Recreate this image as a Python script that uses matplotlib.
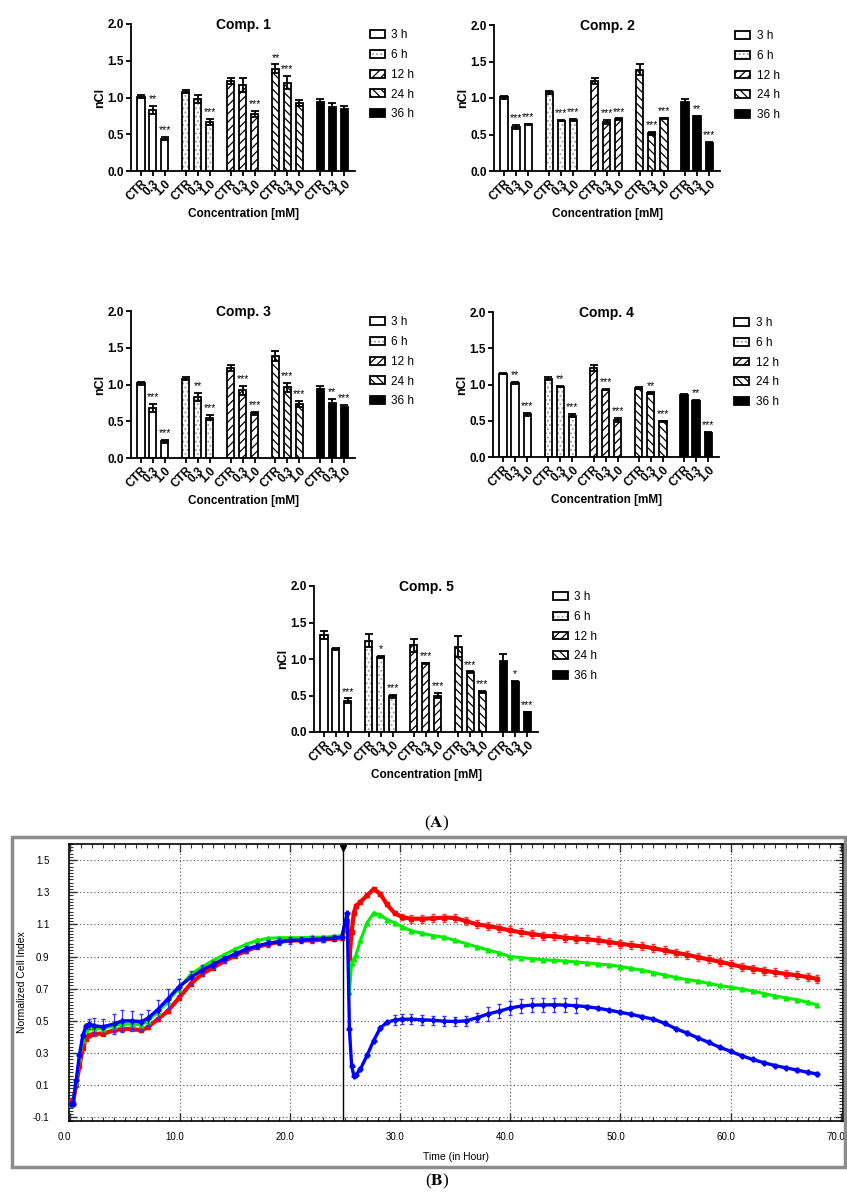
import matplotlib
matplotlib.use('Agg')
import matplotlib.pyplot as plt
from matplotlib.patches import Patch, Rectangle
from matplotlib import transforms
from matplotlib.ticker import MultipleLocator, FixedLocator

plt.rcParams['font.family'] = ['Liberation Sans', 'DejaVu Sans']
plt.rcParams['hatch.linewidth'] = 0.9

W, H = 847, 1196

# ---------------- Panel A data ----------------
time_labels = ['3 h', '6 h', '12 h', '24 h', '36 h']
conc_labels = ['CTR', '0.3', '1.0']
comp_titles = ['Comp. 1', 'Comp. 2', 'Comp. 3', 'Comp. 4', 'Comp. 5']

c1_mean = [[1.01, 0.83, 0.44], [1.08, 0.98, 0.67], [1.23, 1.17, 0.78], [1.39, 1.20, 0.93], [0.94, 0.87, 0.85]]
c1_err = [[0.02, 0.05, 0.02], [0.02, 0.05, 0.04], [0.04, 0.09, 0.04], [0.06, 0.09, 0.04], [0.04, 0.05, 0.03]]
c1_sig = [['', '**', '***'], ['', '', '***'], ['', '', '***'], ['**', '***', ''], ['', '', '']]

c2_mean = [[1.01, 0.60, 0.64], [1.08, 0.69, 0.70], [1.23, 0.67, 0.71], [1.39, 0.52, 0.72], [0.94, 0.75, 0.38]]
c2_err = [[0.02, 0.03, 0.01], [0.02, 0.01, 0.01], [0.04, 0.03, 0.01], [0.07, 0.02, 0.01], [0.05, 0.01, 0.02]]
c2_sig = [['', '***', '***'], ['', '***', '***'], ['', '***', '***'], ['', '***', '***'], ['', '**', '***']]

c3_mean = [[1.02, 0.68, 0.23], [1.08, 0.83, 0.55], [1.22, 0.92, 0.61], [1.39, 0.96, 0.74], [0.94, 0.75, 0.69]]
c3_err = [[0.02, 0.05, 0.02], [0.02, 0.05, 0.03], [0.04, 0.06, 0.02], [0.07, 0.06, 0.04], [0.04, 0.05, 0.03]]
c3_sig = [['', '***', '***'], ['', '**', '***'], ['', '***', '***'], ['', '***', '***'], ['', '**', '***']]

c4_mean = [[1.15, 1.02, 0.59], [1.08, 0.97, 0.57], [1.23, 0.93, 0.51], [0.95, 0.88, 0.49], [0.86, 0.77, 0.33]]
c4_err = [[0.01, 0.01, 0.02], [0.02, 0.01, 0.02], [0.04, 0.01, 0.03], [0.01, 0.01, 0.01], [0.01, 0.02, 0.01]]
c4_sig = [['', '**', '***'], ['', '**', '***'], ['', '***', '***'], ['', '**', '***'], ['', '**', '***']]

c5_mean = [[1.33, 1.14, 0.43], [1.25, 1.03, 0.49], [1.19, 0.94, 0.50], [1.17, 0.82, 0.55], [0.97, 0.69, 0.27]]
c5_err = [[0.06, 0.01, 0.03], [0.09, 0.01, 0.02], [0.09, 0.01, 0.04], [0.14, 0.01, 0.01], [0.10, 0.01, 0.01]]
c5_sig = [['', '', '***'], ['', '*', '***'], ['', '***', '***'], ['', '***', '***'], ['', '*', '***']]

# ---------------- Panel B data ----------------
t_hours = [0.1, 0.3, 0.6, 0.9, 1.2, 1.5, 1.8,
           2.2, 3.0, 4.0, 4.8, 5.7, 6.5, 7.1, 8.0, 8.9, 9.9,
           11, 12, 13, 14, 15, 16, 17, 18, 19, 20, 21, 22, 23, 24,
           24.7,
           25.2, 25.4, 25.6, 25.8, 26.0, 26.4, 27.0, 27.6, 28.2, 28.8, 29.5, 30.2,
           31, 32, 33, 34, 35, 36, 37, 38, 39, 40, 41, 42, 43, 44, 45, 46, 47, 48, 49,
           50, 51, 52, 53, 54, 55, 56, 57, 58, 59, 60, 61, 62, 63, 64, 65, 66, 67,
           67.8]

ci_red = [0.00, -0.01, 0.10, 0.22, 0.33, 0.39, 0.41,
          0.42, 0.42, 0.44, 0.45, 0.45, 0.44, 0.46, 0.51, 0.56, 0.64,
          0.73, 0.79, 0.83, 0.87, 0.905, 0.935, 0.96, 0.977, 0.99, 1.0, 1.0, 1.0, 1.005, 1.01,
          1.015,
          1.12, 0.89, 1.05, 1.17, 1.215, 1.24, 1.28, 1.32, 1.29, 1.225, 1.17, 1.145,
          1.135, 1.135, 1.138, 1.142, 1.14, 1.12, 1.10, 1.09, 1.077, 1.062, 1.05, 1.04, 1.03,
          1.025, 1.017, 1.012, 1.007, 1.0, 0.99,
          0.98, 0.97, 0.963, 0.952, 0.938, 0.924, 0.912, 0.896, 0.882, 0.868, 0.852, 0.836,
          0.825, 0.813, 0.802, 0.792, 0.783, 0.772,
          0.762]

ci_green = [-0.02, -0.01, 0.12, 0.27, 0.38, 0.44, 0.46,
            0.455, 0.45, 0.47, 0.48, 0.48, 0.475, 0.50, 0.555, 0.62, 0.70,
            0.79, 0.835, 0.875, 0.91, 0.945, 0.975, 1.0, 1.013, 1.017, 1.017, 1.017, 1.02, 1.02, 1.025,
            1.03,
            1.11, 0.68, 0.86, 0.885, 0.91, 1.0, 1.11, 1.17, 1.16, 1.13, 1.11, 1.085,
            1.06, 1.045, 1.03, 1.02, 1.0, 0.98, 0.96, 0.94, 0.922, 0.90, 0.893, 0.887, 0.88,
            0.876, 0.872, 0.866, 0.86, 0.853, 0.848,
            0.838, 0.826, 0.815, 0.80, 0.785, 0.77, 0.757, 0.747, 0.733, 0.72, 0.71, 0.698,
            0.686, 0.67, 0.655, 0.643, 0.632, 0.615,
            0.60]

ci_blue = [-0.02, -0.02, 0.13, 0.29, 0.41, 0.47, 0.48,
           0.47, 0.463, 0.48, 0.50, 0.50, 0.495, 0.515, 0.57, 0.635, 0.71,
           0.77, 0.815, 0.85, 0.885, 0.915, 0.945, 0.965, 0.982, 0.993, 1.0, 1.003, 1.006, 1.01, 1.015,
           1.02,
           1.17, 0.45, 0.22, 0.16, 0.165, 0.20, 0.285, 0.377, 0.455, 0.49, 0.505, 0.51,
           0.51, 0.507, 0.503, 0.498, 0.496, 0.50, 0.52, 0.543, 0.56, 0.58, 0.592, 0.598, 0.599,
           0.60, 0.598, 0.594, 0.588, 0.578, 0.566,
           0.553, 0.54, 0.525, 0.51, 0.485, 0.452, 0.425, 0.395, 0.366, 0.336, 0.31, 0.283,
           0.26, 0.24, 0.222, 0.208, 0.194, 0.18,
           0.17]

err_red = [0.01] * 43 + [0.02] + [0.025] * 38
err_blue = ([0.01] * 6 + [0.03] +
            [0.05, 0.05, 0.06, 0.07, 0.06, 0.05, 0.05, 0.06, 0.06, 0.05] +
            [0.04, 0.03] + [0.02] * 12 + [0.01] + [0.01] * 10 + [0.03, 0.03] +
            [0.03] * 7 + [0.045] * 9 + [0.01] * 22)

treat_time = 24.8

fig = plt.figure(figsize=(W / 100, H / 100), dpi=100)


def frect(x0, y0, x1, y1):
    return [x0 / W, 1 - y1 / H, (x1 - x0) / W, (y1 - y0) / H]


styles = [
    dict(fc='white', hatch=None, hc='black'),
    dict(fc='white', hatch='....', hc='#a0a0a0'),
    dict(fc='white', hatch='////', hc='black'),
    dict(fc='white', hatch='\\\\\\\\', hc='black'),
    dict(fc='black', hatch=None, hc='black'),
]


def legend_handle(st):
    under = Patch(facecolor=st['fc'], edgecolor=st['hc'], hatch=st['hatch'], lw=0)
    outline = Patch(facecolor='none', edgecolor='black', lw=1.3)
    return (under, outline)


def bar_panel(rect, title, means, errs, sigs):
    ax = fig.add_axes(rect)
    xs, labels = [], []
    for g in range(5):
        st = styles[g]
        for i in range(3):
            x = g * 3.75 + i
            m = means[g][i]
            e = errs[g][i]
            ax.bar(x, m, 0.6, color=st['fc'], edgecolor=st['hc'], hatch=st['hatch'], lw=0, zorder=2)
            ax.bar(x, m, 0.6, fill=False, edgecolor='black', lw=1.3, zorder=3)
            ax.errorbar(x, m, yerr=e, color='black', capsize=3, elinewidth=1.3, capthick=1.3, zorder=4)
            if sigs[g][i]:
                ax.text(x, m + e + 0.025, sigs[g][i], ha='center', va='bottom', fontsize=7.5, zorder=5)
            xs.append(x)
            labels.append(conc_labels[i])
    ax.set_xlim(-0.83, 17.9)
    ax.set_ylim(0, 2.0)
    ax.set_yticks([0, 0.5, 1.0, 1.5, 2.0])
    ax.set_yticklabels(['0.0', '0.5', '1.0', '1.5', '2.0'], fontweight='bold', fontsize=8.5)
    ax.set_xticks(xs)
    ax.set_xticklabels(labels, rotation=45, ha='right', va='top', rotation_mode='anchor',
                       fontweight='bold', fontsize=8.5)
    ax.tick_params(axis='both', width=1.3, length=3.5, pad=1.5)
    for s in ['top', 'right']:
        ax.spines[s].set_visible(False)
    for s in ['left', 'bottom']:
        ax.spines[s].set_linewidth(1.3)
    ax.set_ylabel('nCl', fontweight='bold', fontsize=9, labelpad=1)
    ax.set_xlabel('Concentration [mM]', fontweight='bold', fontsize=8.5, labelpad=3)
    ax.text(0.5, 0.99, title, transform=ax.transAxes, ha='center', va='center',
            fontweight='bold', fontsize=10)
    handles = [legend_handle(st) for st in styles]
    ax.legend(handles, time_labels, loc='upper left', bbox_to_anchor=(1.065, 0.965),
              frameon=False, fontsize=8.5, handlelength=1.3, handleheight=0.65,
              labelspacing=0.66, handletextpad=0.55, borderaxespad=0, borderpad=0)
    return ax


bar_panel(frect(131, 24, 355, 171), comp_titles[0], c1_mean, c1_err, c1_sig)
bar_panel(frect(494, 25, 720, 171), comp_titles[1], c2_mean, c2_err, c2_sig)
bar_panel(frect(131, 311, 355, 458), comp_titles[2], c3_mean, c3_err, c3_sig)
bar_panel(frect(493, 312, 719, 457), comp_titles[3], c4_mean, c4_err, c4_sig)
bar_panel(frect(314, 586, 538, 732), comp_titles[4], c5_mean, c5_err, c5_sig)

plt.rcParams['mathtext.fontset'] = 'stix'
fig.text(437 / W, 1 - 823 / H, r'($\mathbf{A}$)', ha='center', va='center', fontsize=12.5,
         family=['Liberation Serif', 'DejaVu Serif'])
fig.text(437 / W, 1 - 1181 / H, r'($\mathbf{B}$)', ha='center', va='center', fontsize=12.5,
         family=['Liberation Serif', 'DejaVu Serif'])

# ---------------- Panel B ----------------
fig.patches.append(Rectangle((12 / W, 1 - 1167 / H), (845 - 12) / W, (1167 - 837) / H,
                             transform=fig.transFigure, fill=False, ec='#8c8c8c', lw=2.5))

axb = fig.add_axes(frect(68.8, 844, 843, 1121))
axb.set_xlim(-0.07, 70.2)
axb.set_ylim(-0.123, 1.6)

grid_kw = dict(color='#555555', lw=0.8, linestyle=(0, (1, 2.2)), zorder=1)
for yv in [-0.1, 0.1, 0.3, 0.5, 0.7, 0.9, 1.1, 1.3, 1.5]:
    axb.axhline(yv, **grid_kw)
for xv in [10, 20, 30, 40, 50, 60]:
    axb.axvline(xv, **grid_kw)

axb.errorbar(t_hours, ci_red, yerr=err_red, fmt='-s', color='#ff0000', ms=3.4, lw=3.0,
             ecolor='#ff3030', elinewidth=0.8, capsize=1.5, zorder=3)
axb.plot(t_hours, ci_green, '-^', color='#00ee00', ms=3.4, lw=2.2, zorder=4)
axb.errorbar(t_hours, ci_blue, yerr=err_blue, fmt='-P', color='#0000ff', ms=3.4, lw=2.4,
             ecolor='#3030ff', elinewidth=0.8, capsize=1.5, zorder=5)

axb.axvline(treat_time, ymax=0.975, color='black', lw=1.0, zorder=6)
axb.plot([treat_time], [0.985], marker='v', color='black', ms=5,
         transform=transforms.blended_transform_factory(axb.transData, axb.transAxes),
         clip_on=False, zorder=7)

axb.xaxis.set_major_locator(MultipleLocator(10))
axb.xaxis.set_minor_locator(MultipleLocator(1))
axb.set_xticks([0, 10, 20, 30, 40, 50, 60, 70])
axb.set_xticklabels(['0.0', '10.0', '20.0', '30.0', '40.0', '50.0', '60.0', '70.0'], fontsize=7)
axb.yaxis.set_major_locator(FixedLocator([-0.1, 0.1, 0.3, 0.5, 0.7, 0.9, 1.1, 1.3, 1.5]))
axb.yaxis.set_minor_locator(MultipleLocator(0.02))
axb.set_yticklabels(['-0.1', '0.1', '0.3', '0.5', '0.7', '0.9', '1.1', '1.3', '1.5'], fontsize=7)
axb.tick_params(axis='both', which='both', direction='in', top=True, right=True, color='#333333')
axb.tick_params(axis='both', which='major', length=6, width=1.0)
axb.tick_params(axis='both', which='minor', length=3, width=0.8)
axb.tick_params(axis='x', which='major', pad=8)
axb.tick_params(axis='y', which='major', pad=14)
offset = transforms.ScaledTranslation(-5 / 100, 0, fig.dpi_scale_trans)
for lab in axb.get_xticklabels():
    lab.set_transform(lab.get_transform() + offset)
for s in axb.spines.values():
    s.set_linewidth(1.2)
axb.set_xlabel('Time (in Hour)', fontsize=7.5, labelpad=7)
axb.set_ylabel('Normalized Cell Index', fontsize=7.5, labelpad=4)

fig.savefig('out.png', dpi=100)
